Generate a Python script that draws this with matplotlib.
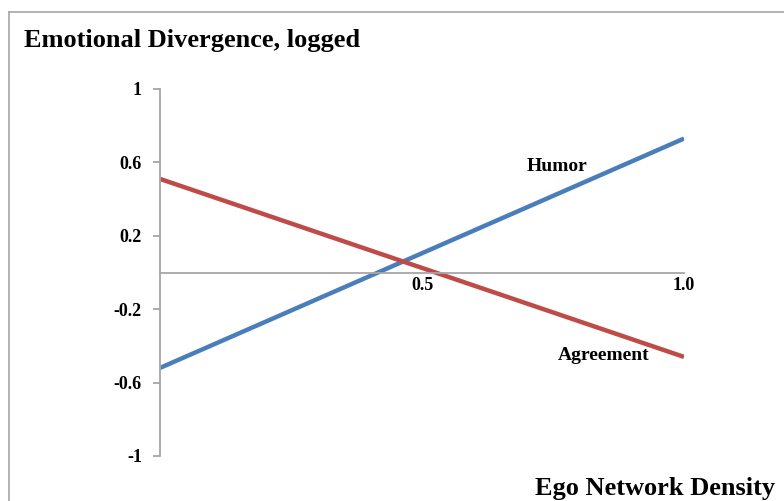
import matplotlib
matplotlib.use('Agg')
import matplotlib.pyplot as plt
from matplotlib.lines import Line2D

# Дані: дві лінії взаємодії (початок і кінець)
density = [0.0, 1.0]
humor = [-0.52, 0.73]
agreement = [0.51, -0.46]

y_ticks = [-1, -0.6, -0.2, 0.2, 0.6, 1]
y_tick_labels = ["-1", "-0.6", "-0.2", "0.2", "0.6", "1"]
x_ticks = [0.5, 1.0]
x_tick_labels = ["0.5", "1.0"]

BLUE = "#4A7EBB"
RED = "#BE4B48"
GRAY = "#A6A6A6"
FONT = "Liberation Serif"

fig = plt.figure(figsize=(7.84, 5.01), dpi=100)
ax = fig.add_axes([160 / 784, (501 - 456) / 501, 524 / 784, 367 / 501])

ax.plot(density, humor, color=BLUE, lw=3.2, solid_capstyle='butt')
ax.plot(density, agreement, color=RED, lw=3.2, solid_capstyle='butt')

ax.set_xlim(0, 1)
ax.set_ylim(-1, 1)

for s in ['top', 'right']:
    ax.spines[s].set_visible(False)
ax.spines['left'].set_color(GRAY)
ax.spines['left'].set_linewidth(1.3)
ax.spines['bottom'].set_position(('data', 0))
ax.spines['bottom'].set_color(GRAY)
ax.spines['bottom'].set_linewidth(1.3)

ax.set_yticks(y_ticks)
ax.set_yticklabels(y_tick_labels, fontfamily=FONT, fontweight='bold', fontsize=13)
ax.tick_params(axis='y', length=5, width=1.3, color=GRAY, pad=8)
ax.set_xticks(x_ticks)
ax.set_xticklabels(x_tick_labels, fontfamily=FONT, fontweight='bold', fontsize=13)
ax.tick_params(axis='x', length=0, pad=3)

ax.text(0.757, 0.575, "Humor", fontfamily=FONT, fontweight='bold', fontsize=14,
        ha='center', va='center')
ax.text(0.846, -0.45, "Agreement", fontfamily=FONT, fontweight='bold', fontsize=14,
        ha='center', va='center')

fig.text(24 / 784, 1 - 40 / 501, "Emotional Divergence, logged", fontfamily=FONT,
         fontweight='bold', fontsize=19, ha='left', va='center')
fig.text(775 / 784, 1 - 488 / 501, "Ego Network Density", fontfamily=FONT,
         fontweight='bold', fontsize=19, ha='right', va='center')

# Рамка навколо рисунка (ліворуч і зверху)
fig.add_artist(Line2D([9 / 784, 9 / 784], [0, 1 - 12 / 501], color=GRAY, lw=1.2,
                      transform=fig.transFigure))
fig.add_artist(Line2D([9 / 784, 1], [1 - 12 / 501, 1 - 12 / 501], color=GRAY, lw=1.2,
                      transform=fig.transFigure))

fig.savefig("out.png", dpi=100)
